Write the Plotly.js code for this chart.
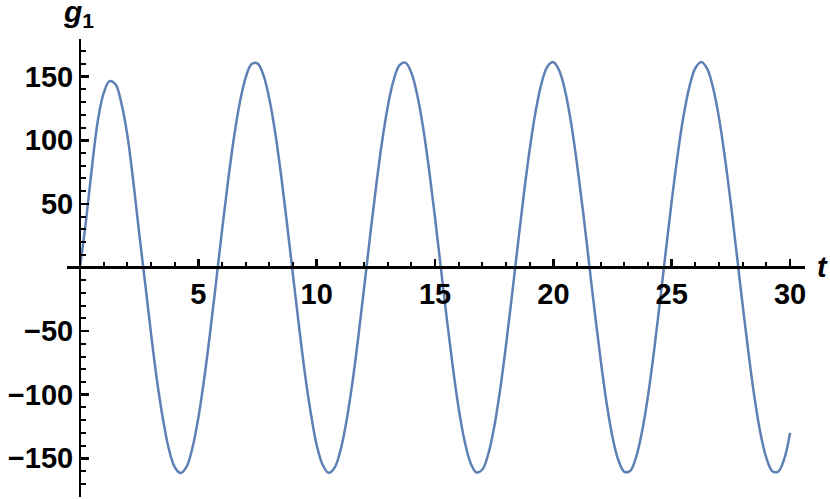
<!DOCTYPE html>
<html>
<head>
<meta charset="utf-8">
<script src="https://cdn.plot.ly/plotly-3.0.1.min.js"></script>
<style>html,body{margin:0;padding:0;background:#fff}#chart{width:830px;height:499px}</style>
</head>
<body>
<div id="chart"></div>
<script>
// t values and g1 values
const tValues = [0, 0.25, 0.5, 0.75, 1, 1.25, 1.5, 1.75, 2, 2.25, 2.5, 2.75, 3, 3.25, 3.5, 3.75, 4, 4.25, 4.5, 4.75,
  5, 5.25, 5.5, 5.75, 6, 6.25, 6.5, 6.75, 7, 7.25, 7.5, 7.75, 8, 8.25, 8.5, 8.75, 9, 9.25, 9.5, 9.75,
  10, 10.25, 10.5, 10.75, 11, 11.25, 11.5, 11.75, 12, 12.25, 12.5, 12.75, 13, 13.25, 13.5, 13.75, 14, 14.25, 14.5, 14.75,
  15, 15.25, 15.5, 15.75, 16, 16.25, 16.5, 16.75, 17, 17.25, 17.5, 17.75, 18, 18.25, 18.5, 18.75, 19, 19.25, 19.5, 19.75,
  20, 20.25, 20.5, 20.75, 21, 21.25, 21.5, 21.75, 22, 22.25, 22.5, 22.75, 23, 23.25, 23.5, 23.75, 24, 24.25, 24.5, 24.75,
  25, 25.25, 25.5, 25.75, 26, 26.25, 26.5, 26.75, 27, 27.25, 27.5, 27.75, 28, 28.25, 28.5, 28.75, 29, 29.25, 29.5, 29.75, 30];
const g1Values = [0, 36, 78, 115, 137, 146.5, 144, 129, 104, 68, 27, -12, -51.8, -88.4, -118.6, -142.3, -156.8, -161.5, -156.7, -141.8,
  -118.1, -87.2, -50.8, -11.3, 28.9, 67.3, 101.6, 129.5, 149.3, 159.9, 160.5, 151.2, 132.4, 105.6, 71.9, 33.8, -6.2, -45.8, -83.0, -114.4,
  -139.7, -155.0, -161.4, -157.6, -144.1, -121.6, -91.7, -55.8, -16.6, 23.7, 62.4, 97.4, 126.2, 147.2, 159.1, 161.0, 153.0, 135.4, 109.5, 76.6,
  39.1, -0.9, -40.8, -78.1, -110.9, -136.5, -153.6, -161.1, -158.8, -146.6, -125.3, -96.0, -60.8, -21.9, 18.2, 57.3, 92.9, 122.7, 144.9, 158.0,
  161.4, 154.7, 138.4, 113.5, 81.2, 44.4, 4.6, -35.5, -73.1, -106.7, -133.6, -151.7, -160.7, -159.7, -148.7, -128.6, -100.5, -65.9, -27.2, 12.9,
  52.3, 88.5, 119.2, 142.4, 156.8, 161.5, 156.1, 141.0, 117.2, 85.8, 49.6, 9.9, -30.2, -68.4, -102.7, -130.5, -149.9, -160.1, -160.4, -150.7, -130];
const xTickVals = [5, 10, 15, 20, 25, 30];
const xTickText = ['5', '10', '15', '20', '25', '30'];
const yTickVals = [-150, -100, -50, 50, 100, 150];
const yTickText = ['\u2212150', '\u2212100', '\u221250', '50', '100', '150'];

const xr = [-0.549, 30.63];
const yr = [-180.4, 179.6];
const tickFont = {family: 'Liberation Sans, Arial, sans-serif', size: 29, color: '#000', weight: 'bold'};

const trace = {
  x: tValues, y: g1Values, type: 'scatter', mode: 'lines',
  line: {color: '#5E81B5', width: 2.5, shape: 'spline', smoothing: 1},
  hoverinfo: 'skip'
};

const layout = {
  width: 830, height: 499,
  margin: {l: 67, r: 25, t: 39, b: 2},
  paper_bgcolor: '#fff', plot_bgcolor: '#fff',
  showlegend: false,
  xaxis: {
    range: xr, anchor: 'free', position: (0 - yr[0]) / (yr[1] - yr[0]),
    showgrid: false, zeroline: false,
    showline: true, linecolor: '#000', linewidth: 2.5,
    tickmode: 'array', tickvals: xTickVals, ticktext: xTickText,
    ticks: 'inside', ticklen: 7, tickwidth: 2.5, tickcolor: '#000',
    minor: {tickmode: 'linear', tick0: 0, dtick: 1, ticks: 'inside', ticklen: 4, tickwidth: 2, tickcolor: '#000', showgrid: false},
    tickfont: tickFont
  },
  yaxis: {
    range: yr, anchor: 'free', position: (0 - xr[0]) / (xr[1] - xr[0]),
    showgrid: false, zeroline: false,
    showline: true, linecolor: '#000', linewidth: 2.5,
    tickmode: 'array', tickvals: yTickVals, ticktext: yTickText,
    ticks: 'inside', ticklen: 8, tickwidth: 2.5, tickcolor: '#000',
    minor: {tickmode: 'linear', tick0: 0, dtick: 10, ticks: 'inside', ticklen: 5, tickwidth: 2, tickcolor: '#000', showgrid: false},
    tickfont: tickFont
  },
  annotations: [
    {text: '<b><i>g</i></b><sub><b>1</b></sub>', xref: 'paper', yref: 'paper', x: 0.016, y: 1.0546, xanchor: 'center', yanchor: 'middle',
     showarrow: false, font: {family: 'Liberation Sans, Arial, sans-serif', size: 30, color: '#000'}},
    {text: '<b><i>t</i></b>', xref: 'paper', yref: 'paper', x: 1.024, y: 0.502, xanchor: 'center', yanchor: 'middle',
     showarrow: false, font: {family: 'Liberation Sans, Arial, sans-serif', size: 29, color: '#000'}}
  ]
};

Plotly.newPlot('chart', [trace], layout, {staticPlot: true, displayModeBar: false});
</script>
</body>
</html>
